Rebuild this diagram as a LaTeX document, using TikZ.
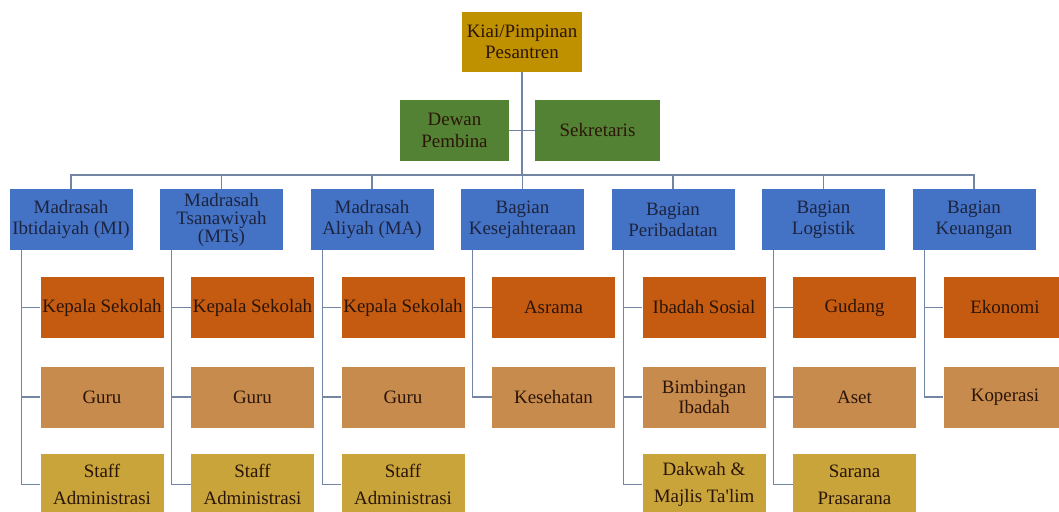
\documentclass[tikz,border=0pt]{standalone}
\usepackage{fontspec}
\setmainfont{Liberation Serif}
\definecolor{headgold}{HTML}{BF9000}
\definecolor{advgreen}{HTML}{548235}
\definecolor{unitblue}{HTML}{4472C4}
\definecolor{kaorange}{HTML}{C55A11}
\definecolor{gurutan}{HTML}{C88B4E}
\definecolor{staffgold}{HTML}{C9A43B}
\definecolor{linkgray}{HTML}{7485A3}
\definecolor{darktext}{HTML}{2A1508}
\definecolor{navytext}{HTML}{1C2440}
\tikzset{
  orgbox/.style={
    draw=none, inner sep=0.5pt, align=center,
    minimum width=92.25pt, minimum height=45.75pt,
    font=\fontsize{14.2}{16}\selectfont, text=darktext
  },
  headbox/.style={orgbox, fill=headgold, minimum width=90pt, minimum height=45pt},
  advbox/.style={orgbox, fill=advgreen},
  unitbox/.style={orgbox, fill=unitblue, text=navytext},
  kabox/.style={orgbox, fill=kaorange},
  gurubox/.style={orgbox, fill=gurutan, font=\fontsize{14.2}{15}\selectfont},
  staffbox/.style={orgbox, fill=staffgold, font=\fontsize{14.2}{20.5}\selectfont},
  link/.style={draw=linkgray, line width=0.9pt}
}

\begin{document}
\begin{tikzpicture}[x=0.75pt,y=-0.75pt]
\newcommand{\unity}{219.5}
\newcommand{\rowa}{307.5}
\newcommand{\rowb}{397}
\newcommand{\rowc}{484.5}
\newcommand{\kidx}{31}

\clip (0,0) rectangle (1059,511);

\node[headbox] (kiai) at (522,42) {Kiai/Pimpinan\\Pesantren};
\node[advbox, minimum width=81.75pt] (dewan) at (454.5,130.5) {Dewan\\Pembina};
\node[advbox, minimum width=93.75pt] (sekretaris) at (597.5,130.5) {Sekretaris};
\coordinate (bus) at (522,175);

\node[unitbox] (mi) at (71,\unity) {Madrasah\\Ibtidaiyah (MI)};
\node[unitbox] (mts) at (221.5,\unity) {Madrasah\\[-2.5pt]Tsanawiyah\\[-2.5pt](MTs)};
\node[unitbox] (ma) at (372,\unity) {Madrasah\\Aliyah (MA)};
\node[unitbox] (kes) at (522.5,\unity) {Bagian\\Kesejahteraan};
\node[unitbox] (ibd) at (673,\unity) {Bagian\\Peribadatan};
\node[unitbox] (log) at (823.5,\unity) {Bagian\\Logistik};
\node[unitbox] (keu) at (974,\unity) {Bagian\\Keuangan};

\node[kabox] (mika) at (71+\kidx,\rowa) {Kepala Sekolah};
\node[gurubox] (miguru) at (71+\kidx,\rowb) {Guru};
\node[staffbox] (mistaff) at (71+\kidx,\rowc) {Staff\\Administrasi};

\node[kabox] (mtska) at (221.5+\kidx,\rowa) {Kepala Sekolah};
\node[gurubox] (mtsguru) at (221.5+\kidx,\rowb) {Guru};
\node[staffbox] (mtsstaff) at (221.5+\kidx,\rowc) {Staff\\Administrasi};

\node[kabox] (maka) at (372+\kidx,\rowa) {Kepala Sekolah};
\node[gurubox] (maguru) at (372+\kidx,\rowb) {Guru};
\node[staffbox] (mastaff) at (372+\kidx,\rowc) {Staff\\Administrasi};

\node[kabox] (asrama) at (522.5+\kidx,\rowa) {Asrama};
\node[gurubox] (sehat) at (522.5+\kidx,\rowb) {Kesehatan};

\node[kabox] (sosial) at (673+\kidx,\rowa) {Ibadah Sosial};
\node[gurubox] (bimbingan) at (673+\kidx,\rowb) {Bimbingan\\Ibadah};
\node[staffbox] (dakwah) at (673+\kidx,\rowc) {Dakwah \&\\Majlis Ta\textquotesingle lim};

\node[kabox] (gudang) at (823.5+\kidx,\rowa) {Gudang};
\node[gurubox] (aset) at (823.5+\kidx,\rowb) {Aset};
\node[staffbox] (sarana) at (823.5+\kidx,\rowc) {Sarana\\Prasarana};

\node[kabox] (ekonomi) at (974+\kidx,\rowa) {Ekonomi};
\node[gurubox] (koperasi) at (974+\kidx,\rowb) {Koperasi};

\draw[link] (kiai.south) -- (bus);
\draw[link] (dewan.east) -- (sekretaris.west);
\draw[link] (mi.north) |- (bus) -| (keu.north);
\foreach \u in {mts,ma,kes,ibd,log}
  \draw[link] (\u.north) -- (\u.north |- bus);

\foreach \u/\k in {mi/mika,mi/miguru,mi/mistaff,
                   mts/mtska,mts/mtsguru,mts/mtsstaff,
                   ma/maka,ma/maguru,ma/mastaff,
                   kes/asrama,kes/sehat,
                   ibd/sosial,ibd/bimbingan,ibd/dakwah,
                   log/gudang,log/aset,log/sarana,
                   keu/ekonomi,keu/koperasi}
  \draw[link] ([xshift=9pt]\u.south west) |- (\k.west);
\end{tikzpicture}
\end{document}
